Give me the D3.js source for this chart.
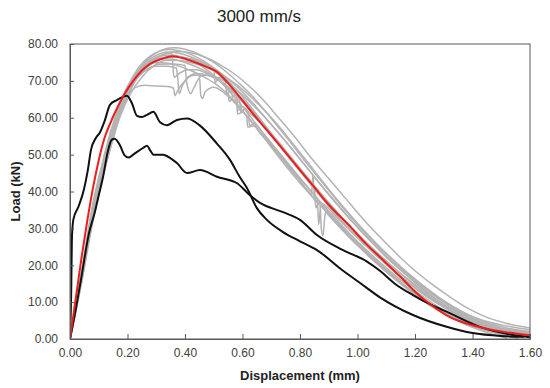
<!DOCTYPE html>
<html>
<head>
<meta charset="utf-8">
<script src="https://cdn.jsdelivr.net/npm/d3@7"></script>
<style>
  body { margin: 0; background: #fff; }
  svg { display: block; font-family: Arial, "Liberation Sans", sans-serif; }
</style>
</head>
<body>
<div id="chart"></div>
<script>
// tick values
const xTicks = [0, 0.2, 0.4, 0.6, 0.8, 1.0, 1.2, 1.4, 1.6];
const yTicks = [0, 10, 20, 30, 40, 50, 60, 70, 80];

// individual test curves [displacement mm, load kN]
const gray1 = [[0,0],[0.04,16],[0.08,34],[0.11,44],[0.14,53.5],[0.17,61.5],[0.2,67.5],[0.24,73],[0.28,76.5],[0.32,78.4],[0.36,79],[0.40,78.6],[0.45,77.2],[0.50,75],[0.55,72],[0.60,68.5],[0.65,64.5],[0.70,59.8],[0.76,54],[0.82,48],[0.88,42.2],[0.94,36.5],[1.00,31],[1.06,26],[1.12,21.5],[1.18,17.2],[1.24,13.5],[1.30,10.2],[1.36,7.5],[1.42,5.5],[1.50,3.8],[1.60,2.5]];
const gray2 = [[0,0],[0.04,15],[0.08,32],[0.115,44],[0.145,53],[0.175,61],[0.21,67.5],[0.25,72.5],[0.29,75.5],[0.33,77.3],[0.37,78],[0.42,77.6],[0.47,76.4],[0.52,74.5],[0.57,72],[0.62,68.8],[0.67,65],[0.72,60.5],[0.78,55],[0.84,49],[0.90,43.5],[0.96,38],[1.02,32.5],[1.08,27.5],[1.14,22.8],[1.20,18.5],[1.26,14.8],[1.32,11.5],[1.38,8.5],[1.44,6.2],[1.52,4.2],[1.60,3]];
const gray3 = [[0,0],[0.04,17],[0.08,35],[0.11,45],[0.14,54],[0.17,62],[0.2,68],[0.24,73.2],[0.28,76],[0.31,77.3],[0.34,77.8],[0.38,77.5],[0.43,76.2],[0.48,74.3],[0.53,71.8],[0.58,68.5],[0.63,64.5],[0.68,60],[0.74,54.5],[0.80,48.8],[0.86,43],[0.92,37.5],[0.98,32],[1.04,27],[1.10,22.2],[1.16,18],[1.22,14],[1.28,10.5],[1.34,7.6],[1.40,5.3],[1.48,3.2],[1.60,1.5]];
const gray4 = [[0,0],[0.04,18],[0.08,36],[0.11,46],[0.14,55],[0.17,62.5],[0.2,68],[0.24,72.5],[0.28,75],[0.32,76],[0.36,75.8],[0.40,75],[0.44,73.8],[0.48,72.2],[0.52,70],[0.55,68],[0.553,64.5],[0.57,65],[0.58,63.8],[0.583,61],[0.60,61.5],[0.615,60.2],[0.618,57.5],[0.64,57.8],[0.66,56],[0.70,52.5],[0.75,48],[0.80,43.5],[0.86,38],[0.92,32.5],[0.98,27.5],[1.04,23],[1.10,18.8],[1.16,14.8],[1.22,11.2],[1.28,8.2],[1.34,5.7],[1.40,3.8],[1.46,2.4],[1.53,1.2],[1.60,0.6]];
const gray5 = [[0,0],[0.04,18],[0.08,37],[0.11,47],[0.14,56],[0.17,63],[0.2,68.5],[0.24,72.5],[0.27,74.3],[0.30,75],[0.34,74.8],[0.38,74],[0.42,72.8],[0.46,71.3],[0.50,69.5],[0.54,67],[0.58,63.8],[0.62,60],[0.66,56],[0.70,52],[0.75,47],[0.80,42.3],[0.84,38.8],[0.86,37],[0.87,36.2],[0.874,30],[0.88,28],[0.886,33],[0.89,34.5],[0.92,32],[0.97,28],[1.03,23.5],[1.09,19.2],[1.15,15.2],[1.21,11.6],[1.27,8.4],[1.33,5.8],[1.39,3.8],[1.45,2.2],[1.5,1.2],[1.55,0.4]];
const gray6 = [[0,0],[0.04,17],[0.08,35],[0.11,45],[0.14,54],[0.17,61.5],[0.2,67],[0.23,70.5],[0.26,72.8],[0.30,74],[0.34,74],[0.37,73.5],[0.375,70.5],[0.38,66.5],[0.39,68.5],[0.41,71],[0.44,72],[0.48,71.5],[0.52,70],[0.56,67.8],[0.60,65],[0.64,61.5],[0.68,57.8],[0.73,53],[0.78,48.2],[0.84,42.5],[0.90,37],[0.96,31.8],[1.02,27],[1.08,22.5],[1.14,18.3],[1.20,14.5],[1.26,11],[1.32,8],[1.38,5.6],[1.44,3.8],[1.52,2.2],[1.60,1.4]];
const gray7 = [[0,0],[0.04,17.5],[0.08,35.5],[0.11,45.5],[0.14,54.5],[0.17,61.5],[0.2,66],[0.23,68.3],[0.26,68.8],[0.30,68.6],[0.34,68.5],[0.36,68],[0.365,66],[0.375,67.5],[0.40,70],[0.43,71.5],[0.45,71.5],[0.455,66],[0.46,65.2],[0.47,67],[0.50,68.3],[0.54,66.5],[0.58,63.5],[0.62,60],[0.66,56.3],[0.70,52.5],[0.75,47.6],[0.80,42.8],[0.86,37.2],[0.92,32],[0.98,27],[1.04,22.6],[1.10,18.4],[1.16,14.6],[1.22,11.2],[1.28,8.2],[1.34,5.7],[1.40,3.6],[1.46,2],[1.52,0.8],[1.56,0.2]];
const gray8 = [[0,0],[0.04,16.5],[0.08,34],[0.11,44.5],[0.14,53.5],[0.17,61.5],[0.2,67.5],[0.24,72.5],[0.28,75.5],[0.32,77],[0.355,77.6],[0.358,74],[0.362,71],[0.38,72],[0.41,73],[0.44,73],[0.47,72.2],[0.50,71],[0.53,69.5],[0.56,67.5],[0.60,64.3],[0.64,60.8],[0.68,57],[0.72,53.2],[0.77,48.4],[0.82,43.8],[0.88,38.4],[0.94,33.2],[1.00,28.4],[1.06,24],[1.12,19.8],[1.18,16],[1.24,12.5],[1.30,9.4],[1.36,6.8],[1.42,4.6],[1.48,3],[1.60,1.2]];
const gray9 = [[0,0],[0.04,16],[0.08,33.5],[0.11,44],[0.14,53.5],[0.17,62],[0.2,68.3],[0.24,73.8],[0.28,76.8],[0.31,78],[0.34,78.5],[0.38,78.2],[0.42,77.2],[0.46,75.6],[0.50,73.5],[0.54,70.8],[0.58,67.5],[0.62,63.8],[0.66,59.8],[0.70,55.6],[0.75,50.5],[0.80,45.5],[0.86,39.7],[0.92,34.2],[0.98,29.2],[1.04,24.5],[1.10,20.2],[1.16,16.2],[1.22,12.6],[1.28,9.5],[1.34,6.8],[1.40,4.6],[1.46,3],[1.53,1.8],[1.60,1.2]];
const gray10 = [[0,0],[0.04,17],[0.08,34.5],[0.11,44.5],[0.14,53],[0.17,60.5],[0.2,66.5],[0.24,71.5],[0.28,74.5],[0.33,76.2],[0.38,76.5],[0.42,76],[0.46,74.8],[0.50,73],[0.505,69.5],[0.52,71],[0.54,69.8],[0.545,66.5],[0.56,67.5],[0.58,65.5],[0.585,62],[0.60,63],[0.62,61],[0.625,57.8],[0.64,58.5],[0.67,56],[0.71,52.2],[0.76,47.5],[0.81,42.8],[0.86,38.2],[0.92,33],[0.98,28],[1.04,23.5],[1.10,19.3],[1.16,15.4],[1.22,11.9],[1.28,8.8],[1.34,6.2],[1.40,4],[1.46,2.4],[1.53,1.3],[1.60,0.8]];
const gray11 = [[0,0],[0.04,15.5],[0.08,33],[0.115,44.5],[0.145,53],[0.175,60.5],[0.21,66.5],[0.25,71],[0.29,74],[0.33,75.5],[0.37,75.6],[0.42,75],[0.47,73.8],[0.52,72],[0.57,69.5],[0.62,66.3],[0.67,62.5],[0.72,58.3],[0.77,53.5],[0.82,48.6],[0.88,42.6],[0.94,36.8],[1.00,31.4],[1.06,26.4],[1.12,21.8],[1.18,17.6],[1.24,13.8],[1.30,10.4],[1.36,7.6],[1.42,5.3],[1.50,3.3],[1.60,2]];
const gray12 = [[0,0],[0.04,17.5],[0.08,36],[0.11,46],[0.14,55],[0.17,62.5],[0.2,68.3],[0.24,72.8],[0.28,75.5],[0.32,76.8],[0.35,77],[0.39,76.5],[0.43,75.2],[0.47,73.3],[0.51,70.8],[0.55,67.6],[0.59,64],[0.63,60],[0.67,56],[0.71,51.8],[0.76,46.8],[0.80,43],[0.84,39.3],[0.845,44.5],[0.85,39],[0.86,38],[0.865,31],[0.872,36],[0.90,33.5],[0.95,29.3],[1.01,24.6],[1.07,20.2],[1.13,16.2],[1.19,12.5],[1.25,9.2],[1.31,6.4],[1.37,4.1],[1.43,2.3],[1.48,1],[1.52,0.2]];
const gray13 = [[0,0],[0.04,16.5],[0.08,34],[0.11,44.5],[0.14,53.8],[0.17,61.8],[0.2,67.8],[0.24,72.8],[0.28,75.3],[0.32,76.3],[0.36,76.6],[0.40,76.2],[0.44,75.2],[0.48,73.7],[0.52,71.6],[0.56,68.8],[0.565,65.5],[0.575,66.5],[0.59,64.5],[0.595,61.5],[0.61,62.5],[0.62,61.6],[0.64,60.2],[0.68,57.2],[0.72,53.4],[0.77,48.6],[0.82,43.7],[0.85,41],[0.855,35.5],[0.865,37],[0.88,36.6],[0.94,32],[1.00,27.4],[1.06,23.1],[1.12,19],[1.18,15.2],[1.24,11.8],[1.30,8.7],[1.36,6.1],[1.42,4],[1.49,2.3],[1.60,1]];
const gray14 = [[0,0],[0.04,17],[0.08,35],[0.11,45],[0.14,54],[0.17,61.5],[0.2,67],[0.24,71.3],[0.28,73.6],[0.31,74.5],[0.35,74.6],[0.40,74.2],[0.405,70],[0.42,66.5],[0.43,68],[0.46,71.5],[0.50,71.2],[0.55,69.3],[0.60,66.2],[0.65,62.4],[0.70,58.2],[0.75,53.6],[0.80,48.8],[0.86,43],[0.92,37.3],[0.98,32],[1.04,27],[1.10,22.4],[1.16,18.2],[1.22,14.4],[1.28,11],[1.34,8],[1.40,5.6],[1.47,3.5],[1.60,1.8]];

// outlier tests
const blackA = [[0,0],[0.004,12],[0.007,28],[0.012,32.5],[0.03,36],[0.048,40.4],[0.062,45.8],[0.073,51.3],[0.09,54.5],[0.104,56],[0.12,59],[0.139,63.5],[0.163,64.8],[0.198,66],[0.215,64],[0.233,60.5],[0.25,60.2],[0.268,60.8],[0.29,61.6],[0.313,58.8],[0.337,58],[0.372,59.4],[0.407,59.8],[0.45,58],[0.511,53],[0.557,48.5],[0.59,44],[0.615,41],[0.65,35.5],[0.685,32.3],[0.741,29],[0.80,26.5],[0.859,24.1],[0.95,18.5],[1.009,15.2],[1.078,11.3],[1.193,6.5],[1.31,3.3],[1.4,1.6],[1.5,0.8],[1.58,0.6]];
const blackB = [[0,0],[0.02,8],[0.038,16],[0.066,28.7],[0.085,34],[0.1,39],[0.115,44],[0.132,51],[0.145,54],[0.155,54.3],[0.174,52.5],[0.19,49.8],[0.205,49.2],[0.22,50],[0.254,51.8],[0.268,52.4],[0.28,51],[0.29,50],[0.324,50],[0.35,49],[0.372,47.7],[0.407,45],[0.452,45.8],[0.511,44],[0.58,42.3],[0.626,39],[0.661,36.9],[0.741,34.4],[0.80,32.3],[0.859,28.2],[0.95,24.1],[1.033,21],[1.078,18.5],[1.13,15],[1.193,11.9],[1.25,9.5],[1.31,7.4],[1.426,3.3],[1.54,1.1],[1.6,0.5]];

// average curve
const average = [[0,0],[0.02,11],[0.04,22],[0.06,32],[0.08,41],[0.1,48.5],[0.12,54.5],[0.14,58.5],[0.157,61.5],[0.19,66.5],[0.22,70],[0.25,72.8],[0.28,74.7],[0.32,76],[0.355,76.7],[0.39,76.2],[0.43,75.2],[0.475,73.8],[0.51,72.5],[0.545,69.8],[0.58,66.6],[0.626,62.1],[0.684,56.7],[0.742,51.3],[0.80,45.8],[0.846,41.5],[0.90,36.4],[0.974,30.5],[1.03,25.8],[1.089,21.4],[1.15,16.8],[1.205,12.5],[1.26,9],[1.32,6],[1.38,4.2],[1.437,3],[1.52,1.8],[1.6,1]];

const grayCurves = [gray1, gray2, gray3, gray4, gray5, gray6, gray7, gray8, gray9, gray10, gray11, gray12, gray13, gray14];
const blackCurves = [blackA, blackB];

const width = 550, height = 388;
const margin = { top: 44, right: 20, bottom: 49, left: 70 };
const innerW = width - margin.left - margin.right;
const innerH = height - margin.top - margin.bottom;
const axisColor = "#595959";

const svg = d3.select("#chart")
  .append("svg")
  .attr("width", width)
  .attr("height", height);

const x = d3.scaleLinear().domain([0, 1.6]).range([0, innerW]);
const y = d3.scaleLinear().domain([0, 80]).range([innerH, 0]);

const g = svg.append("g")
  .attr("transform", "translate(" + margin.left + "," + margin.top + ")");

g.append("clipPath").attr("id", "plot-clip")
  .append("rect").attr("width", innerW).attr("height", innerH);

const line = d3.line()
  .x(d => x(d[0]))
  .y(d => y(d[1]))
  .curve(d3.curveMonotoneX);

const curves = g.append("g").attr("clip-path", "url(#plot-clip)");

curves.selectAll(".gray")
  .data(grayCurves)
  .join("path")
  .attr("class", "gray")
  .attr("fill", "none")
  .attr("stroke", "#b3b3b3")
  .attr("stroke-width", 1.5)
  .attr("d", line);

curves.selectAll(".black")
  .data(blackCurves)
  .join("path")
  .attr("class", "black")
  .attr("fill", "none")
  .attr("stroke", "#111")
  .attr("stroke-width", 2)
  .attr("d", line);

curves.append("path")
  .datum(average)
  .attr("fill", "none")
  .attr("stroke", "#ee1c1c")
  .attr("stroke-width", 2)
  .attr("d", line);

// box around plot area
g.append("rect")
  .attr("width", innerW)
  .attr("height", innerH)
  .attr("fill", "none")
  .attr("stroke", axisColor)
  .attr("stroke-width", 1);

// X axis, ticks pointing inward
const xAxis = g.append("g")
  .attr("transform", "translate(0," + innerH + ")")
  .call(d3.axisBottom(x).tickValues(xTicks).tickFormat(d3.format(".2f")).tickSize(-5).tickPadding(9));

// Y axis
const yAxis = g.append("g")
  .call(d3.axisLeft(y).tickValues(yTicks).tickFormat(d3.format(".2f")).tickSize(-4).tickPadding(12));

[xAxis, yAxis].forEach(a => {
  a.select(".domain").attr("stroke", axisColor);
  a.selectAll(".tick line").attr("stroke", axisColor);
  a.selectAll(".tick text")
    .attr("fill", "#404040")
    .style("font-size", "12px")
    .style("font-family", "Arial, 'Liberation Sans', sans-serif");
});

svg.append("text")
  .attr("x", 259)
  .attr("y", 22)
  .attr("text-anchor", "middle")
  .attr("fill", "#222")
  .style("font-size", "17px")
  .text("3000 mm/s");

svg.append("text")
  .attr("x", margin.left + innerW / 2)
  .attr("y", 380)
  .attr("text-anchor", "middle")
  .attr("fill", "#222")
  .style("font-size", "13px")
  .style("font-weight", "bold")
  .text("Displacement (mm)");

svg.append("text")
  .attr("transform", "translate(20," + (margin.top + innerH / 2) + ") rotate(-90)")
  .attr("text-anchor", "middle")
  .attr("fill", "#222")
  .style("font-size", "13px")
  .style("font-weight", "bold")
  .text("Load (kN)");
</script>
</body>
</html>
